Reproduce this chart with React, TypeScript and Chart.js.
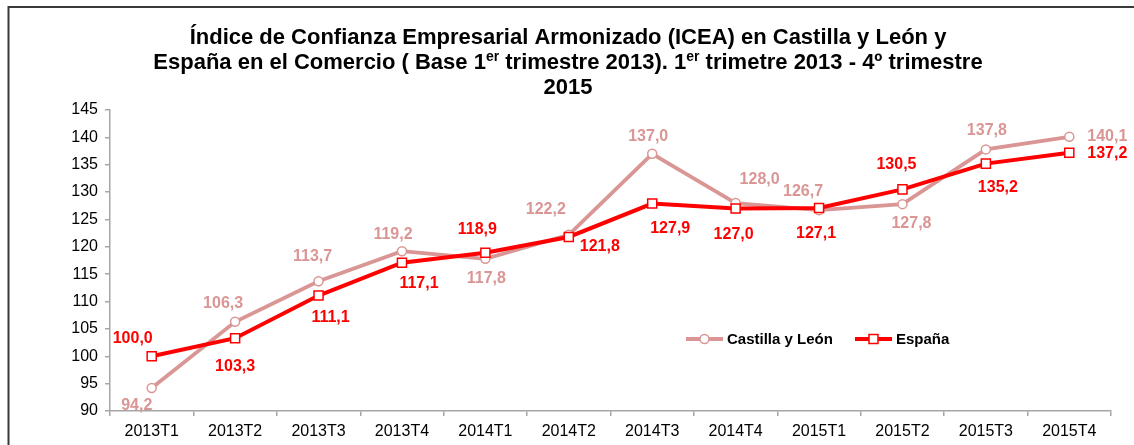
import React, { useEffect, useRef } from "react";
import { Chart, registerables } from "chart.js";

Chart.register(...registerables);

const categories = [
  "2013T1", "2013T2", "2013T3", "2013T4",
  "2014T1", "2014T2", "2014T3", "2014T4",
  "2015T1", "2015T2", "2015T3", "2015T4",
];
const castillaLeon = [94.2, 106.3, 113.7, 119.2, 117.8, 122.2, 137.0, 128.0, 126.7, 127.8, 137.8, 140.1];
const espana = [100.0, 103.3, 111.1, 117.1, 118.9, 121.8, 127.9, 127.0, 127.1, 130.5, 135.2, 137.2];
const yMin = 90;
const yMax = 145;
const yStep = 5;
const seriesNames = ["Castilla y León", "España"];

// label placement offsets (px) relative to each point
const cylLabelOffsets = [[-15, 18], [-12, -18], [-6, -25], [-9, -17], [1, 20], [-23, -25], [-4, -17], [24, -23], [-16, -19], [9, 19], [1, -19], [38, 0]];
const espLabelOffsets = [[-19, -18], [0, 28], [12, 22], [17, 21], [-8, -23], [31, 10], [18, 25], [-2, 26], [-3, 26], [-6, -25], [12, 24], [38, 1]];

const titleLines = [
  [{ t: "Índice de Confianza Empresarial Armonizado (ICEA) en Castilla y León y" }],
  [
    { t: "España en el Comercio ( Base 1" },
    { t: "er", sup: true },
    { t: " trimestre 2013). 1" },
    { t: "er", sup: true },
    { t: " trimetre 2013 - 4º trimestre" },
  ],
  [{ t: "2015" }],
];

const FONT = "'Liberation Sans', Arial, sans-serif";
const CYL_COLOR = "#D99694";
const ESP_COLOR = "#FF0000";

const fmt = (v: number) => v.toFixed(1).replace(".", ",");

const framePlugin = {
  id: "frame",
  beforeDraw(chart: any) {
    const ctx = chart.ctx;
    ctx.save();
    ctx.fillStyle = "#ffffff";
    ctx.fillRect(0, 0, chart.width, chart.height);
    ctx.strokeStyle = "#3a3a3a";
    ctx.lineWidth = 2;
    ctx.strokeRect(8.5, 7, chart.width + 50, chart.height + 50);
    ctx.restore();
  },
};

const titlePlugin = {
  id: "richTitle",
  afterDraw(chart: any) {
    const ctx = chart.ctx;
    const cx = 568;
    const ys = [38, 63, 88];
    const main = `bold 22px ${FONT}`;
    const sup = `bold 14px ${FONT}`;
    ctx.save();
    ctx.fillStyle = "#000000";
    ctx.textBaseline = "middle";
    ctx.textAlign = "left";
    titleLines.forEach((segs, i) => {
      let w = 0;
      segs.forEach((s: any) => {
        ctx.font = s.sup ? sup : main;
        w += ctx.measureText(s.t).width;
      });
      let x = cx - w / 2;
      segs.forEach((s: any) => {
        ctx.font = s.sup ? sup : main;
        ctx.fillText(s.t, x, ys[i] + (s.sup ? -6 : 0));
        x += ctx.measureText(s.t).width;
      });
    });
    ctx.restore();
  },
};

const labelPlugin = {
  id: "pointLabels",
  afterDatasetsDraw(chart: any) {
    const ctx = chart.ctx;
    const offsets = [cylLabelOffsets, espLabelOffsets];
    const colors = [CYL_COLOR, ESP_COLOR];
    ctx.save();
    ctx.font = `bold 16px ${FONT}`;
    ctx.textAlign = "center";
    ctx.textBaseline = "middle";
    chart.data.datasets.forEach((ds: any, di: number) => {
      const meta = chart.getDatasetMeta(di);
      ctx.fillStyle = colors[di];
      meta.data.forEach((pt: any, i: number) => {
        const o = offsets[di][i];
        ctx.fillText(fmt(ds.data[i]), pt.x + o[0], pt.y + o[1]);
      });
    });
    ctx.restore();
  },
};

const legendPlugin = {
  id: "customLegend",
  afterDraw(chart: any) {
    const ctx = chart.ctx;
    const y = 339;
    const items = [
      { x: 686, color: CYL_COLOR, shape: "circle", text: seriesNames[0] },
      { x: 855, color: ESP_COLOR, shape: "rect", text: seriesNames[1] },
    ];
    ctx.save();
    items.forEach((it) => {
      ctx.strokeStyle = it.color;
      ctx.lineWidth = 4;
      ctx.beginPath();
      ctx.moveTo(it.x, y);
      ctx.lineTo(it.x + 37, y);
      ctx.stroke();
      const mx = it.x + 18.5;
      ctx.fillStyle = "#ffffff";
      ctx.lineWidth = 1.5;
      ctx.beginPath();
      if (it.shape === "circle") {
        ctx.arc(mx, y, 4.5, 0, Math.PI * 2);
      } else {
        ctx.rect(mx - 4.5, y - 4.5, 9, 9);
      }
      ctx.fill();
      ctx.stroke();
      ctx.fillStyle = "#000000";
      ctx.font = `bold 15px ${FONT}`;
      ctx.textAlign = "left";
      ctx.textBaseline = "middle";
      ctx.fillText(it.text, it.x + 41, y + 1);
    });
    ctx.restore();
  },
};

export default function App() {
  const ref = useRef<HTMLCanvasElement | null>(null);
  useEffect(() => {
    if (!ref.current) return;
    const chart = new Chart(ref.current, {
      type: "line",
      data: {
        labels: categories,
        datasets: [
          {
            label: seriesNames[0],
            data: castillaLeon,
            borderColor: CYL_COLOR,
            backgroundColor: "#ffffff",
            borderWidth: 3.8,
            pointStyle: "circle",
            pointRadius: 4.5,
            pointBorderWidth: 1.5,
            pointBorderColor: CYL_COLOR,
            pointBackgroundColor: "#ffffff",
            tension: 0,
            order: 2,
          },
          {
            label: seriesNames[1],
            data: espana,
            borderColor: ESP_COLOR,
            backgroundColor: "#ffffff",
            borderWidth: 4,
            pointStyle: "rect",
            pointRadius: 6.4,
            pointBorderWidth: 1.5,
            pointBorderColor: ESP_COLOR,
            pointBackgroundColor: "#ffffff",
            tension: 0,
            order: 1,
          },
        ],
      },
      options: {
        responsive: false,
        animation: false,
        layout: { padding: { top: 110, right: 23, left: 0, bottom: 0 } },
        plugins: {
          legend: { display: false },
          title: { display: false },
          tooltip: { enabled: false },
        },
        scales: {
          x: {
            type: "category",
            offset: true,
            afterFit: (s: any) => { s.height = 34; },
            grid: {
              display: true,
              drawOnChartArea: false,
              drawTicks: true,
              tickLength: 5,
              color: "#A6A6A6",
              lineWidth: 1.5,
              offset: true,
            },
            border: { display: true, color: "#A6A6A6", width: 1.5 },
            ticks: {
              color: "#000000",
              font: { family: FONT, size: 16 },
              padding: 6,
              maxRotation: 0,
              autoSkip: false,
            },
          },
          y: {
            min: yMin,
            max: yMax,
            afterFit: (s: any) => { s.width = 110; },
            grid: {
              display: true,
              drawOnChartArea: false,
              drawTicks: true,
              tickLength: 5,
              color: "#A6A6A6",
              lineWidth: 1.5,
            },
            border: { display: true, color: "#A6A6A6", width: 1.5 },
            ticks: {
              stepSize: yStep,
              color: "#000000",
              font: { family: FONT, size: 16 },
              padding: 7,
            },
          },
        },
      },
      plugins: [framePlugin, titlePlugin, labelPlugin, legendPlugin],
    } as any);
    return () => chart.destroy();
  }, []);
  return (
    <div style={{ position: "fixed", left: 0, top: 0, width: 1134, height: 445, background: "#fff" }}>
      <canvas ref={ref} width={1134} height={445} style={{ display: "block" }} />
    </div>
  );
}
